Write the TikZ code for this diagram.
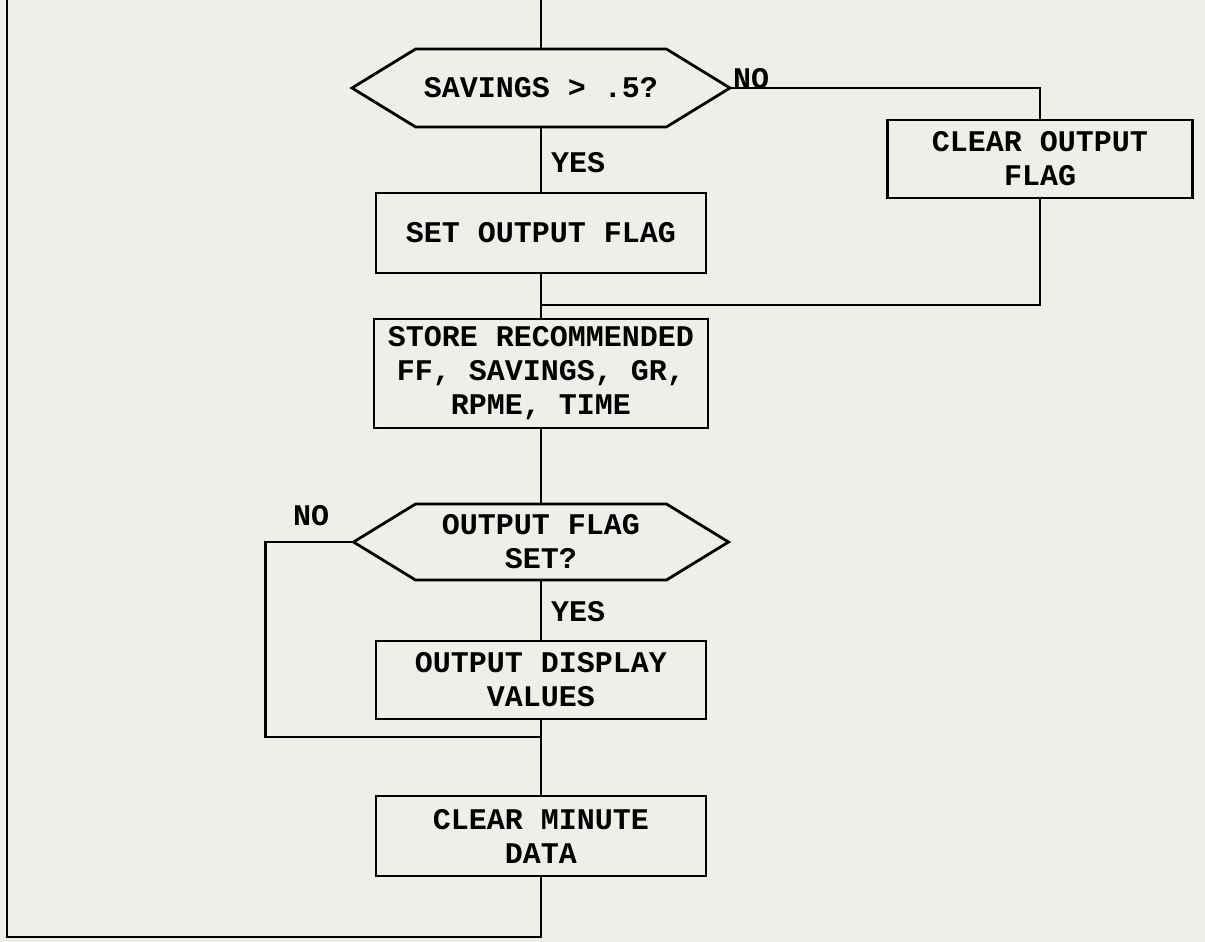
\documentclass[tikz,border=0pt]{standalone}
\usepackage{fontspec}
\setmonofont{Liberation Mono}
\usepackage{xcolor}
\usetikzlibrary{positioning, shapes.symbols, calc}
\definecolor{paper}{HTML}{EFEFEA}

\begin{document}
\begin{tikzpicture}[
        x=1pt, y=-1pt,
        every node/.style={font=\ttfamily\bfseries\fontsize{30}{34}\selectfont},
        box/.style={draw, rectangle, line width=2.8pt, outer sep=0pt, minimum width=330pt, minimum height=80pt, align=center, inner sep=0pt},
        test/.style={draw, signal, signal to=west and east, signal pointer angle=63, line width=2.8pt, outer sep=0pt, minimum width=378pt, minimum height=78pt, align=center, inner sep=0pt},
        lbl/.style={inner sep=0pt},
        line/.style={line width=2.8pt},
        node distance=0pt
    ]
        \fill[paper] (0,0) rectangle (1205,942);
        \useasboundingbox (0,0) rectangle (1205,942);

        \node[test] (dSavings) at (541,88) {SAVINGS > .5?};
        \node[box, below=66pt of dSavings] (setFlag) {SET OUTPUT FLAG};
        \node[box, minimum width=334pt, minimum height=109pt, below=46pt of setFlag] (store) {STORE RECOMMENDED\\FF, SAVINGS, GR,\\RPME, TIME};
        \node[test, minimum width=375pt, minimum height=76pt, below=76pt of store] (dFlag) {OUTPUT FLAG\\SET?};
        \node[box, minimum height=78pt, below=61pt of dFlag] (outDisp) {OUTPUT DISPLAY\\VALUES};
        \node[box, below=77pt of outDisp] (clearMin) {CLEAR MINUTE\\DATA};
        \node[box, minimum width=305pt, minimum height=78pt] (clearFlag) at (1040,159) {CLEAR OUTPUT\\FLAG};

        \node[lbl] (noA) at (751,79) {NO};
        \node[lbl] (yesA) at (578,163) {YES};
        \node[lbl] (noB) at (311,516) {NO};
        \node[lbl] (yesB) at (578,612) {YES};

        \coordinate (top) at (541,0);
        \coordinate (mergeA) at (541,305);
        \coordinate (mergeB) at (541,737);
        \coordinate (retTop) at (7,0);

        \draw[line] (top) -- (dSavings.north);
        \draw[line] (dSavings.south) -- (setFlag.north);
        \draw[line] (setFlag.south) -- (store.north);
        \draw[line] (dSavings.east) -| (clearFlag.north);
        \draw[line] (clearFlag.south) |- (mergeA);
        \draw[line] (store.south) -- (dFlag.north);
        \draw[line] (dFlag.south) -- (outDisp.north);
        \draw[line] (outDisp.south) -- (clearMin.north);
        \draw[line] (dFlag.west) -- ++(-88,0) |- (mergeB);
        \draw[line] (clearMin.south) -- ++(0,61) -| (retTop);
    \end{tikzpicture}
\end{document}
